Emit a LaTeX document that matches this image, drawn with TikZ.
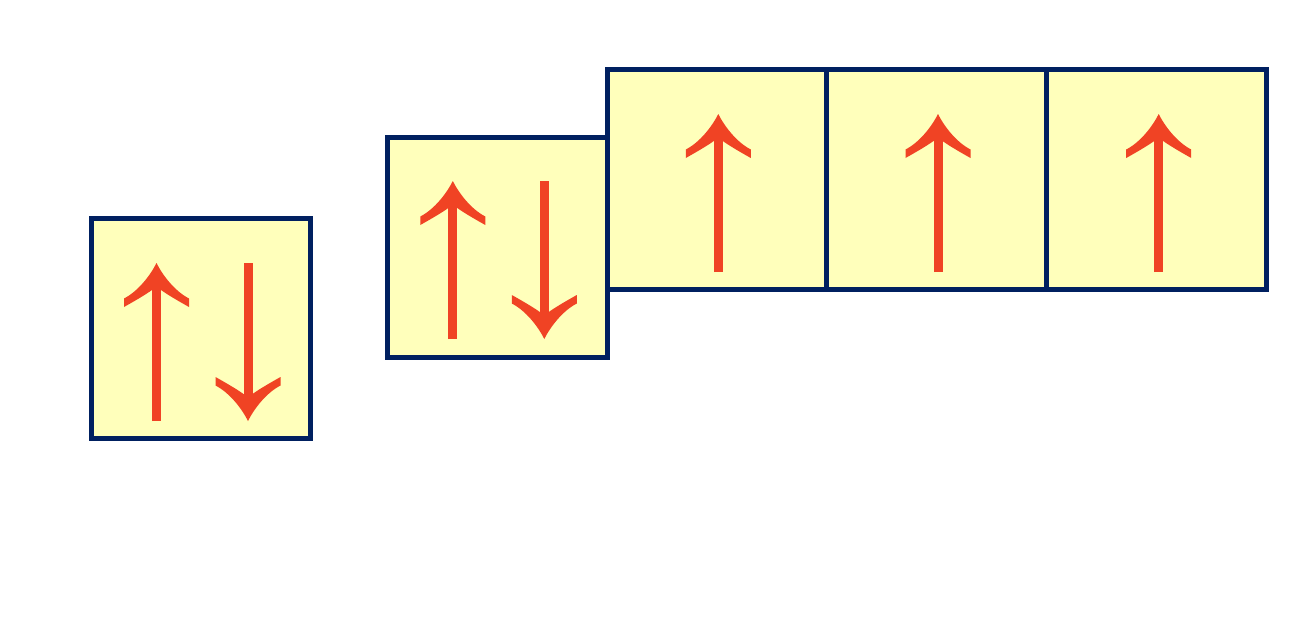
\documentclass[tikz,border=0pt]{standalone}
\definecolor{boxfill}{RGB}{255,255,187}
\definecolor{boxline}{RGB}{0,32,96}
\definecolor{spincol}{RGB}{240,67,36}
\tikzset{
  orbital/.style={draw=boxline, fill=boxfill, line width=0.1cm,
    minimum size=4.4cm, inner sep=0pt, outer sep=0pt},
  spinup/.pic={
    \fill[spincol] (0,-79) .. controls (-6,-67) and (-18,-51) .. (-32.5,-43.5)
      -- (-32.5,-35) .. controls (-20,-42) and (-10,-48) .. (-4.5,-52)
      -- (4.5,-52) .. controls (10,-48) and (20,-42) .. (32.5,-35)
      -- (32.5,-43.5) .. controls (18,-51) and (6,-67) .. (0,-79) -- cycle;
    \draw[spincol, line width=0.18cm] (0,79) -- (0,-55);
  }
}
\begin{document}
\begin{tikzpicture}[x=0.02cm, y=-0.02cm]
        \useasboundingbox (0,0) rectangle (1315,636);

        % 1s
        \node[orbital] (s1) at (201,328.2) {};
        \pic at (156.5,342) {spinup};
        \pic[rotate=180] at (248,342) {spinup};

        % 2s
        \node[orbital] (s2) at (497.6,247.3) {};
        \pic at (452.8,260) {spinup};
        \pic[rotate=180] at (544.3,260) {spinup};

        % 2p
        \node[orbital] (p1) at (717.2,179.8) {};
        \node[orbital] (p2) at (936.8,179.8) {};
        \node[orbital] (p3) at (1156.5,179.8) {};
        \pic at (718.3,193) {spinup};
        \pic at (938,193) {spinup};
        \pic at (1158.7,193) {spinup};
\end{tikzpicture}
\end{document}
